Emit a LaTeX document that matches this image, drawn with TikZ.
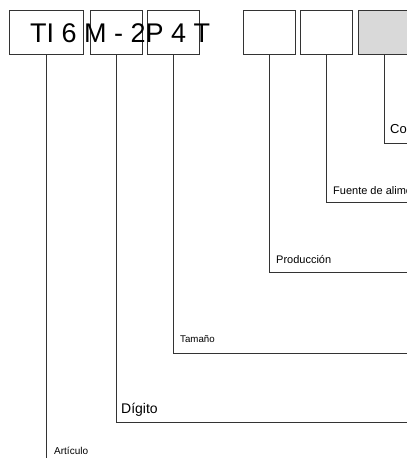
\documentclass[tikz,border=0pt]{standalone}
\usepackage{fontspec}
\setmainfont{Liberation Sans}
\usepackage{xcolor}

\begin{document}
\begin{tikzpicture}[
    x=1pt, y=-1pt,
    cell/.style={draw=black!80, line width=0.9pt, minimum height=44pt, inner sep=0pt, fill=white},
    conn/.style={draw=black!80, line width=0.9pt},
    tag/.style={anchor=base west, inner sep=0pt}
]
\useasboundingbox (0,0) rectangle (407,458);

% Code boxes
\node[cell, minimum width=74pt] (art) at (46,32) {};
\node[cell, minimum width=52pt] (dig) at (116,32) {};
\node[cell, minimum width=52pt] (tam) at (173,32) {};
\node[cell, minimum width=52pt] (prod) at (269,32) {};
\node[cell, minimum width=52pt] (fuente) at (326,32) {};
\node[cell, minimum width=52pt, fill=black!15] (cons) at (384,32) {};

% Code text
\node[anchor=west, inner sep=0pt, font=\fontsize{27}{30}\selectfont] (code) at (30,33) {TI 6 M - 2P 4 T};

% Line ends at the right edge
\coordinate (econs) at (410,143);
\coordinate (efuente) at (410,202);
\coordinate (eprod) at (410,272);
\coordinate (etam) at (410,353);
\coordinate (edig) at (410,422);
\coordinate (eart) at (46,460);

% Connectors
\draw[conn] (cons.south) |- (econs);
\draw[conn] (fuente.south) |- (efuente);
\draw[conn] (prod.south) |- (eprod);
\draw[conn] (tam.south) |- (etam);
\draw[conn] (dig.south) |- (edig);
\draw[conn] (art.south) -- (eart);

% Labels
\node[tag, font=\fontsize{13}{15}\selectfont] (lcons) at (390,133) {Co};
\node[tag, font=\fontsize{11}{13}\selectfont] (lfuente) at (333,194) {Fuente de alime};
\node[tag, font=\fontsize{11}{13}\selectfont] (lprod) at (276,263) {Producción};
\node[tag, font=\fontsize{9.7}{12}\selectfont] (ltam) at (180,342) {Tamaño};
\node[tag, font=\fontsize{14}{16}\selectfont] (ldig) at (121,413) {Dígito};
\node[tag, font=\fontsize{10}{12}\selectfont] (lart) at (54,454) {Artículo};
\end{tikzpicture}
\end{document}
